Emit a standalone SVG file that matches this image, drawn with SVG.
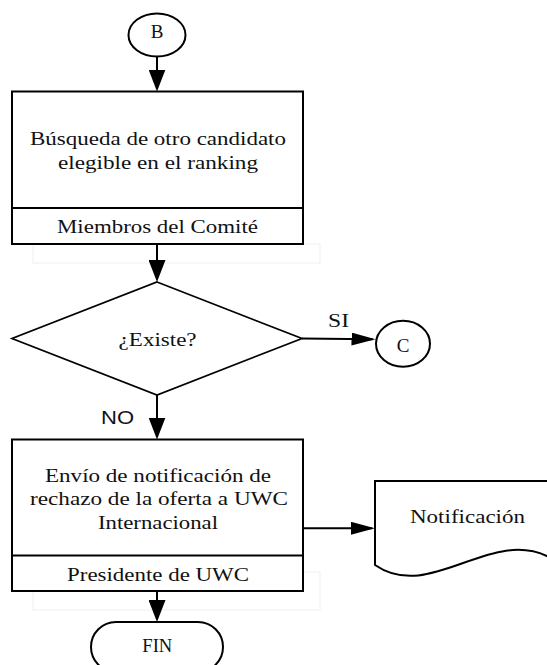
<svg xmlns="http://www.w3.org/2000/svg" width="547" height="665" viewBox="0 0 547 665">
  <style>
    .shape { fill: #ffffff; stroke: #000000; stroke-width: 2; }
    .thin { fill: #ffffff; stroke: #000000; stroke-width: 1.7; }
    .ghost { fill: none; stroke: #efefef; stroke-width: 1; }
    .edge { fill: none; stroke: #000000; stroke-width: 2; }
    .serif { font-family: "Liberation Serif", "Times New Roman", serif; font-size: 19px; fill: #111111; }
    .sans { font-family: "Liberation Sans", Arial, sans-serif; font-size: 18px; fill: #111111; }
  </style>
  <defs>
    <!-- vertical flow arrowhead -->
    <marker id="arrowV" markerUnits="userSpaceOnUse" markerWidth="22" markerHeight="17" refX="19" refY="8.5" orient="auto">
      <path d="M0,0 L22,8.5 L0,17 Z" fill="#000000"/>
    </marker>
    <!-- horizontal flow arrowhead -->
    <marker id="arrowH" markerUnits="userSpaceOnUse" markerWidth="24" markerHeight="13" refX="21" refY="6.5" orient="auto">
      <path d="M0,0 L24,6.5 L0,13 Z" fill="#000000"/>
    </marker>
  </defs>

  <!-- faint frames below the process boxes -->
  <rect class="ghost" x="33" y="244" width="287" height="19"/>
  <rect class="ghost" x="33" y="572" width="287" height="38"/>

  <g id="connectors">
    <path class="edge" d="M157,57 L157,88.5" marker-end="url(#arrowV)"/>
    <path class="edge" d="M157,244 L157,279" marker-end="url(#arrowV)"/>
    <path class="edge" d="M302,338.5 L372.5,339.3" marker-end="url(#arrowH)"/>
    <path class="edge" d="M157,395 L157,436.5" marker-end="url(#arrowV)"/>
    <path class="edge" d="M303,528.3 L372,528.3" marker-end="url(#arrowH)"/>
    <path class="edge" d="M157,591 L157,619" marker-end="url(#arrowV)"/>
    <text class="serif" x="328" y="327" textLength="21" lengthAdjust="spacingAndGlyphs">SI</text>
    <text class="sans" x="101" y="424.3" textLength="33" lengthAdjust="spacingAndGlyphs">NO</text>
  </g>

  <g id="connector-B">
    <ellipse class="shape" cx="157" cy="35" rx="28.5" ry="21.5"/>
    <text class="serif" x="157" y="37.7" font-size="18" text-anchor="middle">B</text>
  </g>

  <g id="busqueda">
    <rect class="shape" x="12" y="91.5" width="291" height="152.5"/>
    <line class="edge" x1="12" y1="208" x2="303" y2="208"/>
    <text class="serif" x="30" y="145.3" font-size="20" textLength="256" lengthAdjust="spacingAndGlyphs">Búsqueda de otro candidato</text>
    <text class="serif" x="58" y="169.3" font-size="20" textLength="200" lengthAdjust="spacingAndGlyphs">elegible en el ranking</text>
    <text class="serif" x="57" y="233.3" textLength="201" lengthAdjust="spacingAndGlyphs">Miembros del Comité</text>
  </g>

  <g id="existe">
    <polygon class="thin" points="157,282 302,338.5 157,395 12,338.5"/>
    <text class="serif" x="118.6" y="346" textLength="78" lengthAdjust="spacingAndGlyphs">¿Existe?</text>
  </g>

  <g id="connector-C">
    <ellipse class="shape" cx="403" cy="343.7" rx="27" ry="23"/>
    <text class="serif" x="403" y="352" font-size="15" text-anchor="middle">C</text>
  </g>

  <g id="envio">
    <rect class="shape" x="12" y="439.5" width="291" height="151.5"/>
    <line class="edge" x1="12" y1="555.5" x2="303" y2="555.5"/>
    <text class="serif" x="45" y="481.7" textLength="226" lengthAdjust="spacingAndGlyphs">Envío de notificación de</text>
    <text class="serif" x="30" y="505" textLength="258" lengthAdjust="spacingAndGlyphs">rechazo de la oferta a UWC</text>
    <text class="serif" x="98" y="529.3" textLength="120" lengthAdjust="spacingAndGlyphs">Internacional</text>
    <text class="serif" x="67" y="581" textLength="182" lengthAdjust="spacingAndGlyphs">Presidente de UWC</text>
  </g>

  <g id="notificacion">
    <path class="shape" d="M375,481 L549,481 L549,557 C490,527 430,603 375,565 Z"/>
    <text class="serif" x="410" y="523.3" textLength="115" lengthAdjust="spacingAndGlyphs">Notificación</text>
  </g>

  <g id="fin">
    <rect class="shape" x="91" y="622" width="132" height="50" rx="25" ry="25"/>
    <text class="serif" x="142.3" y="651.7" font-size="17.5" textLength="30" lengthAdjust="spacingAndGlyphs">FIN</text>
  </g>
</svg>
